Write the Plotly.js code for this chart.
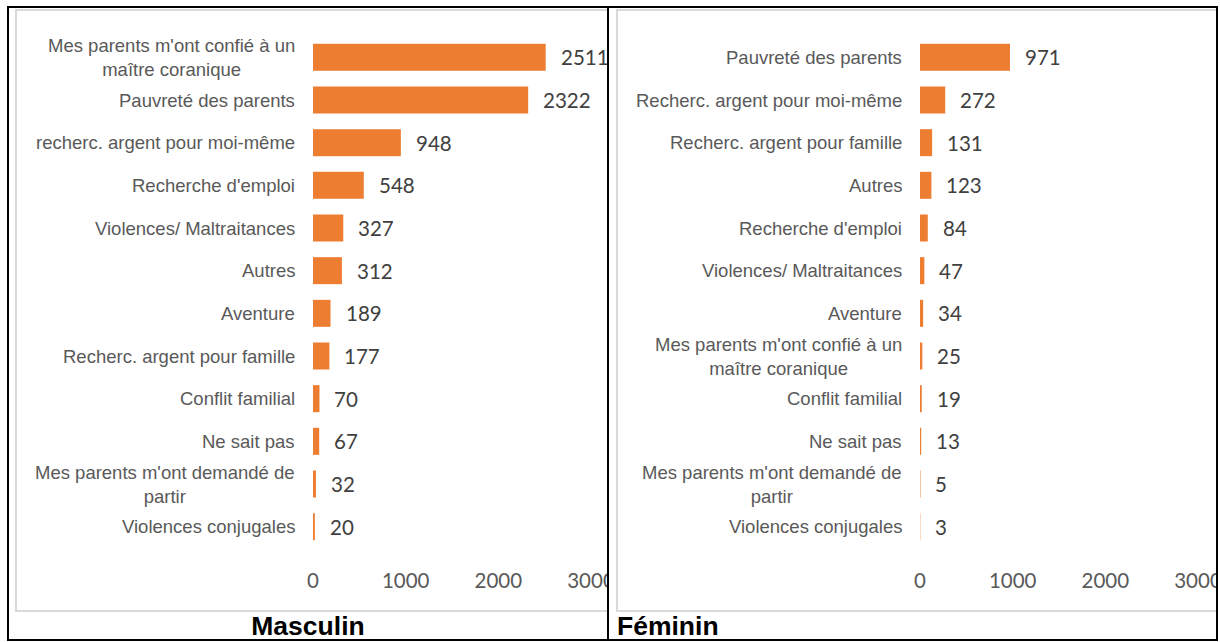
<!DOCTYPE html>
<html>
<head>
<meta charset="utf-8">
<script src="https://cdn.plot.ly/plotly-3.0.1.min.js"></script>
<style>
  html, body { margin: 0; padding: 0; background: #fff; }
  body { width: 1220px; height: 642px; position: relative; overflow: hidden; }
  .frame { position: absolute; left: 7px; top: 6px; width: 1207px; height: 631px; border: 2px solid #000; }
  .mid { position: absolute; left: 607px; top: 6px; width: 2px; height: 635px; background: #000; }
  .cell { position: absolute; top: 8px; height: 631px; overflow: hidden; }
  .gray { position: absolute; top: 1px; height: 599px; width: 900px; border: 2px solid #d9d9d9; box-sizing: content-box; }
  .plot { position: absolute; left: 0; top: 0; width: 700px; height: 631px; }
  .ttl { position: absolute; font-family: "Liberation Sans", Arial, sans-serif; font-weight: bold; font-size: 26.5px; color: #000; line-height: 24px; }
</style>
</head>
<body>
<div class="frame"></div>
<div class="mid"></div>
<div class="cell" id="cellA" style="left:9px; width:598px;">
  <div class="gray" style="left:6px;"></div>
  <div class="plot" id="plotA"></div>
</div>
<div class="cell" id="cellB" style="left:609px; width:607px;">
  <div class="gray" style="left:7px;"></div>
  <div class="plot" id="plotB"></div>
</div>
<div class="ttl" style="left:9px; width:598px; text-align:center; top:614px;">Masculin</div>
<div class="ttl" style="left:617px; top:614px;">Féminin</div>
<script>
// ---- Data ----
const masculinLabels = [
  "Mes parents m'ont confié à un\nmaître coranique",
  "Pauvreté des parents",
  "recherc. argent pour moi-même",
  "Recherche d'emploi",
  "Violences/ Maltraitances",
  "Autres",
  "Aventure",
  "Recherc. argent pour famille",
  "Conflit familial",
  "Ne sait pas",
  "Mes parents m'ont demandé de\npartir",
  "Violences conjugales"
];
const masculinValues = [2511, 2322, 948, 548, 327, 312, 189, 177, 70, 67, 32, 20];

const femininLabels = [
  "Pauvreté des parents",
  "Recherc. argent pour moi-même",
  "Recherc. argent pour famille",
  "Autres",
  "Recherche d'emploi",
  "Violences/ Maltraitances",
  "Aventure",
  "Mes parents m'ont confié à un\nmaître coranique",
  "Conflit familial",
  "Ne sait pas",
  "Mes parents m'ont demandé de\npartir",
  "Violences conjugales"
];
const femininValues = [971, 272, 131, 123, 84, 47, 34, 25, 19, 13, 5, 3];

const xTickVals = [0, 1000, 2000, 3000];
const xTickText = ["0", "1000", "2000", "3000"];

// ---- Drawing ----
function draw(divId, labels, values, leftMargin) {
  const cats = labels.map(s => s.replace(/\n/g, "<br>"));
  const plotW = 278.4;
  const trace = {
    type: "bar",
    orientation: "h",
    x: values,
    y: cats,
    width: 0.633,
    marker: { color: "#ED7D31", line: { width: 0 } },
    hoverinfo: "none"
  };
  const annotations = [];
  cats.forEach((c, i) => {
    annotations.push({
      xref: "x", yref: "y", x: 0, y: c,
      text: c, showarrow: false,
      xanchor: "right", yanchor: "middle", align: "center",
      xshift: -16,
      font: { family: "Liberation Sans, Arial, sans-serif", size: 18.5, color: "#595959" }
    });
    annotations.push({
      xref: "x", yref: "y", x: values[i], y: c,
      text: String(values[i]), showarrow: false,
      xanchor: "left", yanchor: "middle",
      xshift: 13,
      font: { family: "Lato, sans-serif", size: 20.5, color: "#404040" }
    });
  });
  const layout = {
    width: 700, height: 631,
    margin: { l: leftMargin, r: 700 - leftMargin - plotW, t: 28, b: 90.7, pad: 0 },
    paper_bgcolor: "rgba(0,0,0,0)",
    plot_bgcolor: "rgba(0,0,0,0)",
    showlegend: false,
    xaxis: {
      range: [0, 3000], tickvals: xTickVals, ticktext: xTickText,
      showgrid: false, zeroline: false, showline: false, ticks: "",
      ticklabelstandoff: 18,
      tickfont: { family: "Lato, sans-serif", size: 20.5, color: "#595959" },
      fixedrange: true
    },
    yaxis: {
      type: "category", categoryorder: "array", categoryarray: cats,
      range: [cats.length - 0.5, -0.5],
      showticklabels: false, showgrid: false, zeroline: false, showline: false, ticks: "",
      fixedrange: true
    },
    annotations: annotations
  };
  Plotly.newPlot(divId, [trace], layout, { staticPlot: true, displayModeBar: false });
}

draw("plotA", masculinLabels, masculinValues, 304);
draw("plotB", femininLabels, femininValues, 310.5);
</script>
</body>
</html>
